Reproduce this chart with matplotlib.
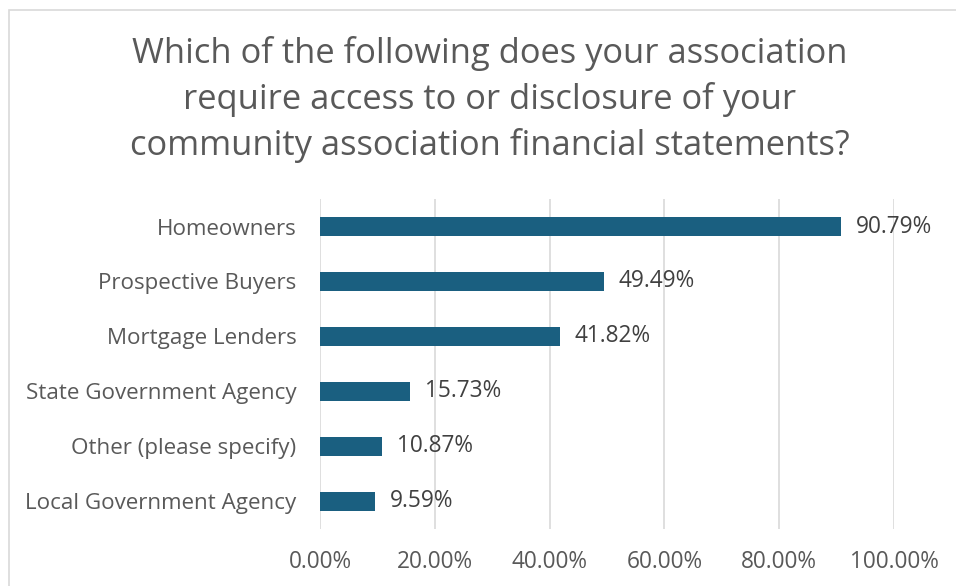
import matplotlib

matplotlib.use("Agg")
import matplotlib.pyplot as plt
from matplotlib.patches import Rectangle

categories = [
    "Homeowners",
    "Prospective Buyers",
    "Mortgage Lenders",
    "State Government Agency",
    "Other (please specify)",
    "Local Government Agency",
]
shares = [90.79, 49.49, 41.82, 15.73, 10.87, 9.59]
x_ticks = [0, 20, 40, 60, 80, 100]

title = (
    "Which of the following does your association\n"
    "require access to or disclosure of your\n"
    "community association financial statements?"
)

plt.rcParams["font.family"] = ["Open Sans", "DejaVu Sans"]

fig = plt.figure(figsize=(9.56, 5.86), dpi=100)
ax = fig.add_axes([0.3347, 0.0973, 0.6004, 0.5631])

# chart frame, partly cut off on the right and bottom
fig.patches.append(Rectangle((9 / 956, -0.1), 1.2, 1 - 10 / 586 + 0.1,
                             transform=fig.transFigure, fill=False,
                             edgecolor="#d9d9d9", linewidth=1.2))

y = list(range(len(categories)))
ax.barh(y, shares, height=0.345, color="#1a5f80", zorder=3)
for yi, v in zip(y, shares):
    ax.text(v + 2.6, yi, f"{v:.2f}%", va="center", ha="left",
            fontsize=16.3, color="#404040")

ax.set_xlim(0, 100)
ax.set_ylim(len(categories) - 0.5, -0.5)
ax.set_yticks(y)
ax.set_yticklabels(categories, fontsize=16.1, color="#595959")
ax.set_xticks(x_ticks)
ax.set_xticklabels([f"{t:.2f}%" for t in x_ticks], fontsize=16.3, color="#595959")
ax.tick_params(length=0)
ax.tick_params(axis="y", pad=17)
ax.tick_params(axis="x", pad=15)
ax.grid(axis="x", color="#d9d9d9", linewidth=1.2, zorder=0)
for s in ax.spines.values():
    s.set_visible(False)

fig.text(0.512, 0.830, title, ha="center", va="center", fontsize=24.8,
         color="#595959", linespacing=1.42)

fig.savefig("out.png", dpi=100)
